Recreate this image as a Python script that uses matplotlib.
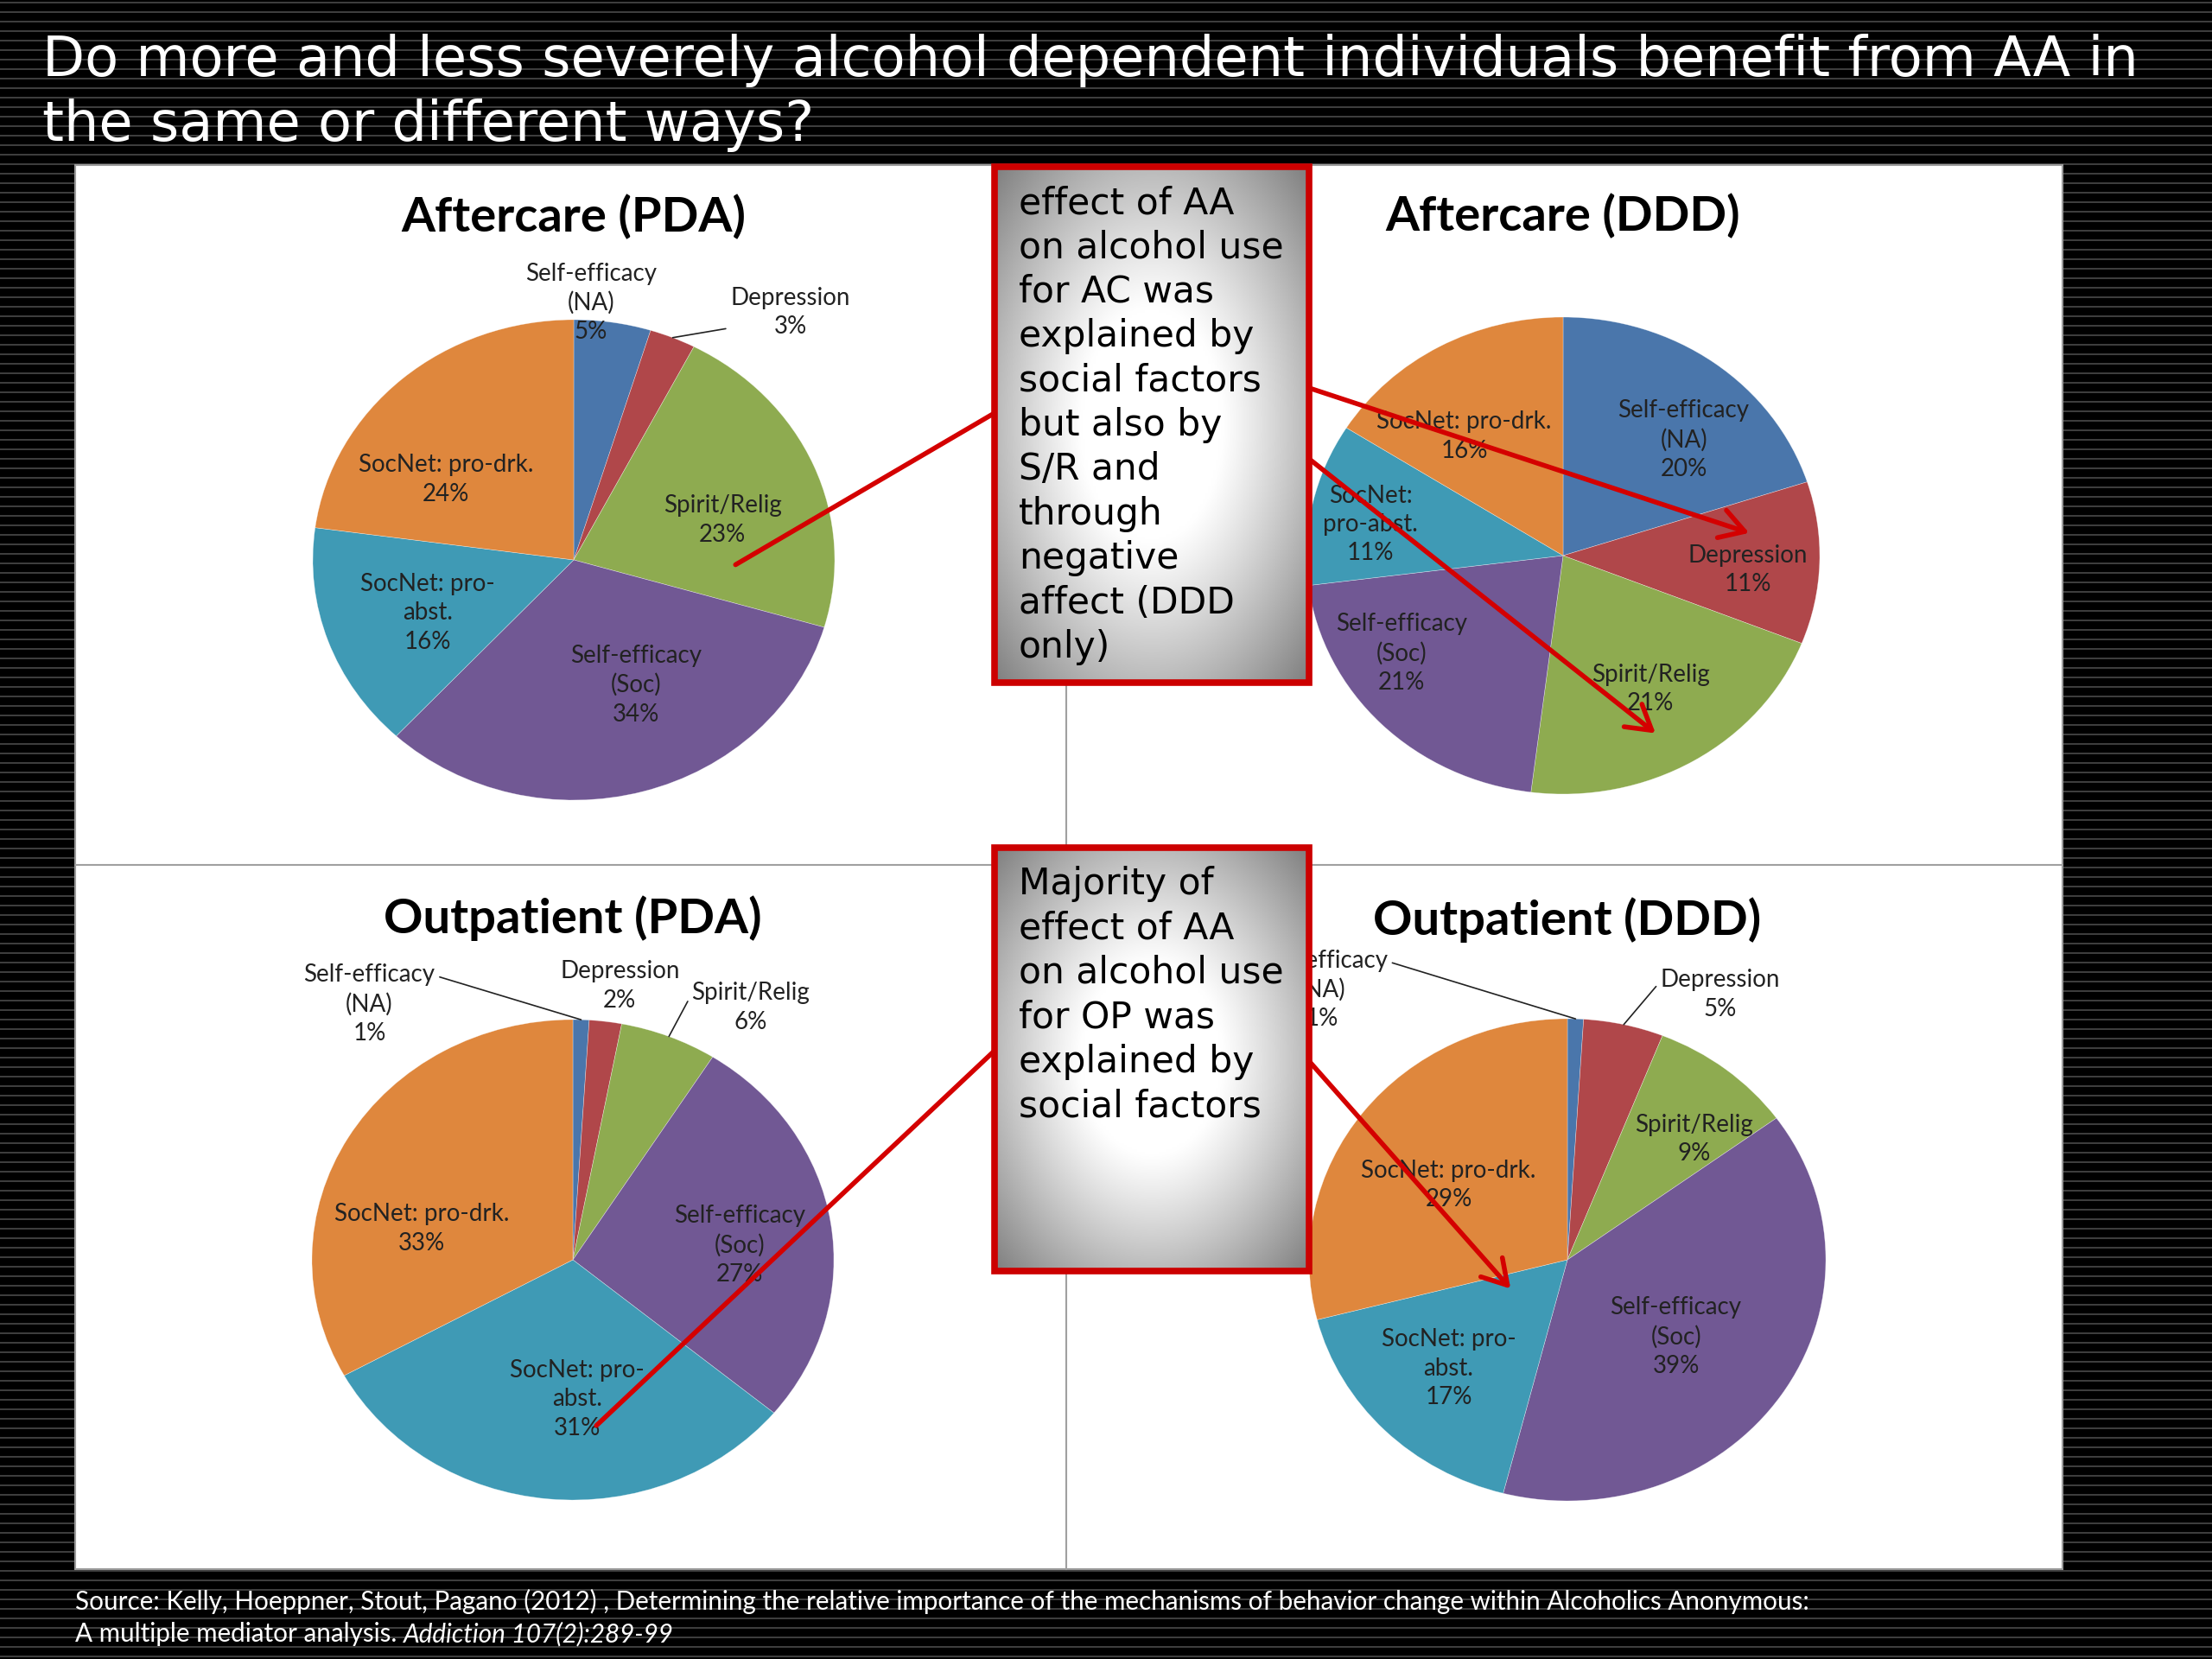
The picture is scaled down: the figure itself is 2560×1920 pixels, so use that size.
import numpy as np
import matplotlib
matplotlib.use('Agg')
import matplotlib.pyplot as plt
from matplotlib.patches import Rectangle

W, H = 2560, 1920

# pie data (percent of AA effect explained by each mediator)
mediators = ['Self-efficacy (NA)', 'Depression', 'Spirit/Relig',
             'Self-efficacy (Soc)', 'SocNet: pro-abst.', 'SocNet: pro-drk.']
ac_pda = [5, 3, 23, 34, 16, 24]
ac_ddd = [20, 11, 21, 21, 11, 16]
op_pda = [1, 2, 6, 27, 31, 33]
op_ddd = [1, 5, 9, 39, 17, 29]
chart_titles = ['Aftercare (PDA)', 'Aftercare (DDD)', 'Outpatient (PDA)', 'Outpatient (DDD)']

# label text as broken on the slide
names_std = ['Self-efficacy\n(NA)', 'Depression', 'Spirit/Relig',
             'Self-efficacy\n(Soc)', 'SocNet: pro-\nabst.', 'SocNet: pro-drk.']
names_tr = ['Self-efficacy\n(NA)', 'Depression', 'Spirit/Relig',
            'Self-efficacy\n(Soc)', 'SocNet:\npro-abst.', 'SocNet: pro-drk.']

colors = ['#4a76ab', '#b0474a', '#8eab50', '#715894', '#3f9ab5', '#df873d']

title_lines = ['Do more and less severely alcohol dependent individuals benefit from AA in',
               'the same or different ways?']
box_texts = ['effect of AA\non alcohol use\nfor AC was\nexplained by\nsocial factors\nbut also by\nS/R and\nthrough\nnegative\naffect (DDD\nonly)',
             'Majority of\neffect of AA\non alcohol use\nfor OP was\nexplained by\nsocial factors']

#layout of the four pies: center x, center y, radius x, radius y (pixels)
pies = [
    dict(vals=ac_pda, names=names_std, c=(664, 648), r=(302, 278), title_y=251,
         pos=[(0.065, 1.07), (0.83, 1.03), (0.57, 0.165), (0.24, -0.52), (-0.56, -0.22), (-0.49, 0.335)],
         leaders={1: (0.0, 0.2)}),
    dict(vals=ac_ddd, names=names_tr, c=(1809, 643), r=(297, 276), title_y=250,
         pos=[(0.47, 0.485), (0.72, -0.06), (0.34, -0.56), (-0.63, -0.41), (-0.75, 0.13), (-0.385, 0.5)],
         leaders={}),
    dict(vals=op_pda, names=names_std, c=(663, 1458), r=(302, 278), title_y=1063,
         pos=[(-0.78, 1.065), (0.18, 1.14), (0.68, 1.05), (0.64, 0.06), (0.016, -0.58), (-0.58, 0.13)],
         leaders={0: (1.0, 0.85), 2: (0.0, 0.75)}),
    dict(vals=op_ddd, names=names_std, c=(1814, 1458), r=(299, 279), title_y=1065,
         pos=[(-0.95, 1.12), (0.59, 1.1), (0.49, 0.5), (0.42, -0.32), (-0.46, -0.45), (-0.46, 0.31)],
         leaders={0: (1.0, 0.85), 1: (0.0, 0.75)}),
]

fig = plt.figure(figsize=(W / 100, H / 100), dpi=100)

#background: black slide with grey pinstripes
bg = fig.add_axes([0, 0, 1, 1], zorder=0)
bg.set_xlim(0, W)
bg.set_ylim(H, 0)
bg.axis('off')
bg.add_patch(Rectangle((0, 0), W, H, color='black', zorder=0))
bg.hlines(np.arange(3, H, 11), 0, W, color='#444444', lw=1.3, zorder=1)

#white chart panel with divider lines
bg.add_patch(Rectangle((87, 191), 2300, 1625, facecolor='white', edgecolor='#9a9a9a', lw=1.5, zorder=3))
bg.plot([1234, 1234], [191, 1816], color='#a0a0a0', lw=1.5, zorder=4)
bg.plot([87, 2387], [1001, 1001], color='#a0a0a0', lw=1.5, zorder=4)

#title
bg.text(49, 70, title_lines[0], color='white', fontsize=46, family='DejaVu Sans', va='center', ha='left', zorder=5)
bg.text(49, 145, title_lines[1], color='white', fontsize=46, family='DejaVu Sans', va='center', ha='left', zorder=5)

#source footer
src = bg.text(87, 1853, 'Source: Kelly, Hoeppner, Stout, Pagano (2012) , Determining the relative importance of the mechanisms of behavior change within Alcoholics Anonymous:',
              color='white', fontsize=21.3, family='Lato', va='center', ha='left', zorder=5)
src2 = bg.text(87, 1891, 'A multiple mediator analysis. ', color='white', fontsize=21.3, family='Lato',
               va='center', ha='left', zorder=5)
bg.annotate('Addiction 107(2):289-99', xy=(1, 0), xycoords=src2, va='bottom', ha='left',
            color='white', fontsize=21.3, family='Lato', style='italic', zorder=5)

label_kw = dict(fontsize=20, family='Lato', color='#222222', ha='center', va='center',
                multialignment='center', linespacing=1.35)

for p, title in zip(pies, chart_titles):
    cx, cy = p['c']
    rx, ry = p['r']
    ax = fig.add_axes([(cx - rx) / W, 1 - (cy + ry) / H, 2 * rx / W, 2 * ry / H], zorder=1)
    ax.pie(p['vals'], colors=colors, startangle=90, counterclock=False, radius=1,
           wedgeprops=dict(edgecolor=(1, 1, 1, 0.5), linewidth=0.4))
    ax.set_aspect('auto')
    ax.set_xlim(-1, 1)
    ax.set_ylim(-1, 1)
    ax.axis('off')

    vals = np.array(p['vals'], dtype=float)
    frac = vals / vals.sum()
    start = np.concatenate([[0], np.cumsum(frac)[:-1]])
    mid = np.deg2rad(90 - 360 * (start + frac / 2))
    for i, (name, v) in enumerate(zip(p['names'], p['vals'])):
        txt = f'{name}\n{v}%'
        lx, ly = p['pos'][i]
        if i in p['leaders']:
            ax.annotate(txt, xy=(np.cos(mid[i]), np.sin(mid[i])), xytext=(lx, ly),
                        arrowprops=dict(arrowstyle='-', color='#222222', lw=1.2,
                                        relpos=p['leaders'][i], shrinkA=2, shrinkB=0),
                        annotation_clip=False, **label_kw)
        else:
            ax.text(lx, ly, txt, **label_kw)

    bg.text(cx, p['title_y'], title, fontsize=40.5, family='Lato', weight='bold',
            color='black', ha='center', va='center', zorder=5)

#overlay for the red call-out boxes and arrows
ov = fig.add_axes([0, 0, 1, 1], zorder=3)
ov.set_xlim(0, W)
ov.set_ylim(H, 0)
ov.axis('off')
ov.patch.set_alpha(0)

yy, xx = np.mgrid[-1:1:200j, -1:1:120j]
r = np.sqrt(xx ** 2 + yy ** 2)
shade = 1 - 0.5 * np.clip((r - 0.45) / 0.96, 0, 1) ** 1.1
grad = np.dstack([shade, shade, shade])

boxes = [(1151, 193, 1515, 790), (1151, 981, 1515, 1471)]
for (x0, y0, x1, y1), t in zip(boxes, box_texts):
    ov.imshow(grad, extent=(x0, x1, y1, y0), origin='upper', aspect='auto', zorder=1)
    ov.add_patch(Rectangle((x0, y0), x1 - x0, y1 - y0, fill=False, edgecolor='#cc0000', lw=5.5, zorder=3))
    ov.text(x0 + 28, y0 + 21, t, fontsize=30.5, family='DejaVu Sans', color='black',
            ha='left', va='top', linespacing=1.285, zorder=4)
ov.set_xlim(0, W)
ov.set_ylim(H, 0)


def pie_px(k, dx, dy):
    cx, cy = pies[k]['c']
    rx, ry = pies[k]['r']
    return cx + dx * rx, cy - dy * ry


#red call-out lines: (start pixel, pie index, end point in pie units, arrow head?)
callouts = [((1151, 478), 0, (0.62, -0.02), False),
            ((1515, 449), 1, (0.725, 0.095), True),
            ((1515, 531), 1, (0.36, -0.745), True),
            ((1151, 1216), 2, (0.09, -0.69), False),
            ((1515, 1228), 3, (-0.22, -0.12), True)]
for start, k, end, head in callouts:
    style = '->,head_length=0.5,head_width=0.3' if head else '-'
    ov.annotate('', xy=pie_px(k, *end), xytext=start,
                arrowprops=dict(arrowstyle=style, color='#d40000', lw=4, mutation_scale=40,
                                shrinkA=0, shrinkB=0), zorder=2)

fig.savefig('out.png', dpi=100, facecolor='black')
